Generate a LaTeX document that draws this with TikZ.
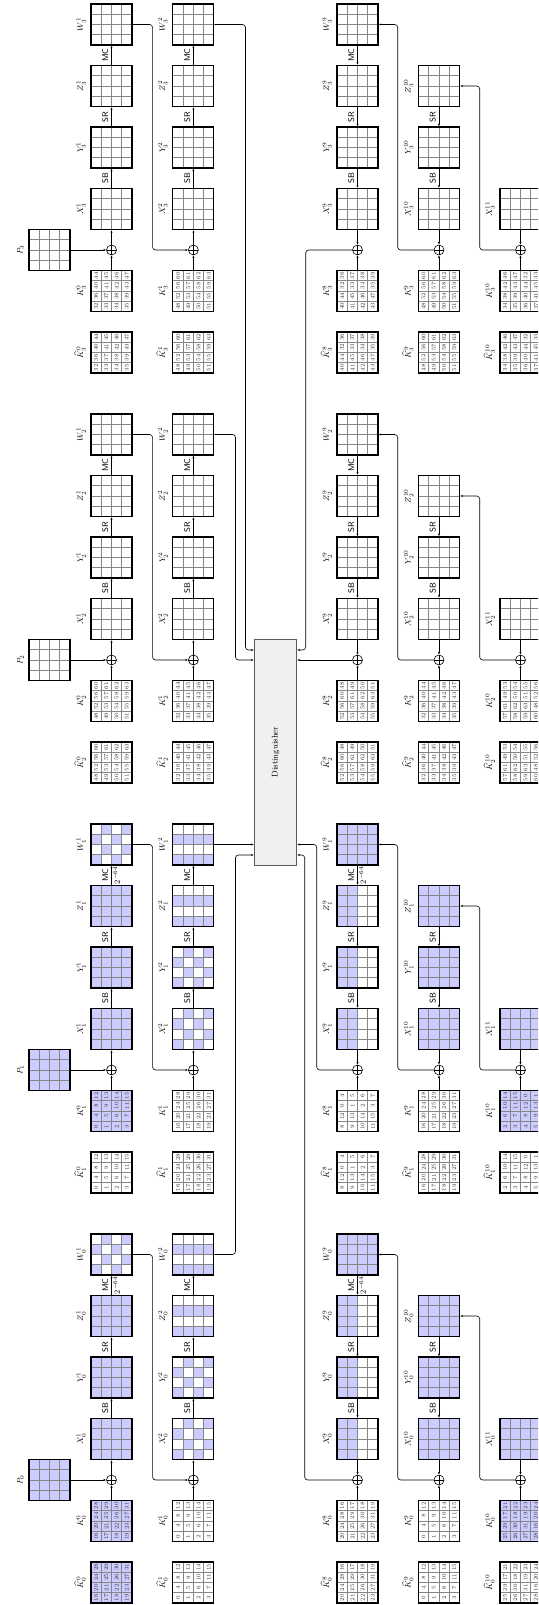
\documentclass[tikz,border=0pt]{standalone}
\usepackage{graphicx}
\usetikzlibrary{arrows.meta,calc}
\definecolor{ActBlue}{HTML}{CCCCFF}
\definecolor{CellGray}{HTML}{858585}
\definecolor{ByteGray}{HTML}{333333}
\definecolor{DistFill}{HTML}{F0F0F0}
\definecolor{DistLine}{HTML}{5A5A5A}
\tikzset{statebox/.style={draw=black,line width=1.15pt,minimum size=41pt,inner sep=0pt},
cellline/.style={draw=CellGray,line width=0.55pt},
xorop/.style={circle,draw,line width=0.6pt,minimum size=10pt,inner sep=0pt,
 path picture={\draw[line width=0.6pt] (path picture bounding box.north)--(path picture bounding box.south)
 (path picture bounding box.west)--(path picture bounding box.east);}},
flow/.style={-{Latex[length=2.6pt,width=2.2pt]},line width=0.6pt,rounded corners=3pt},
lbl/.style={rotate=90,inner sep=0pt,font=\fontsize{8.3}{10}\selectfont},
oplbl/.style={lbl,font=\sffamily\fontsize{8.3}{10}\selectfont},
bytelbl/.style={rotate=90,inner sep=0pt,text=ByteGray,font=\fontsize{5.7}{6}\selectfont},
dist/.style={draw=DistLine,fill=DistFill,line width=0.8pt,minimum width=42.4pt,
 minimum height=225.7pt,inner sep=0pt,font=\fontsize{8.3}{10}\selectfont}}
% rows of the layout
\def\xP{49.5}\def\xA{111.5}\def\xB{193.4}\def\xC{357.5}\def\xD{439}\def\xE{520.5}
% 4x4 state: name, x, y, fill rule in \row and \col
\newcommand\stategrid[4]{%
 \foreach \row in {0,...,3}{\foreach \col in {0,...,3}{%
  \pgfmathtruncatemacro\on{#4}%
  \ifnum\on>0 \fill[ActBlue] ({#2-20.5+10.25*\row},{#3-20.5+10.25*\col}) rectangle +(10.25,10.25);\fi}}%
 \foreach \k in {1,2,3}{%
  \draw[cellline] ({#2-20.5+10.25*\k},{#3-20.5}) -- +(0,41);
  \draw[cellline] ({#2-20.5},{#3-20.5+10.25*\k}) -- +(41,0);}%
 \node[statebox] (#1) at (#2,#3) {};}
% key state: name, x, y, filled, first byte, offset
\newcommand\keygrid[6]{%
 \stategrid{#1}{#2}{#3}{#4}%
 \foreach \row in {0,...,3}{\foreach \col in {0,...,3}{%
  \pgfmathtruncatemacro\byte{#5+mod(\row+4*\col+#6,16)}%
  \node[bytelbl] (#1-\row\col) at ({#2-15.375+10.25*\row},{#3-15.375+10.25*\col}) {\byte};}}}
\newcommand\boxlbl[4]{\node[lbl,anchor=south] (#1) at ({#2-25.5},#3) {$#4$};}
\newcommand\oplbl[4]{\node[oplbl,anchor=south] (#1) at ({#2-3},#3) {#4};}
\newcommand\prlbl[3]{\node[lbl,anchor=north] (#1) at ({#2+1.5},#3) {$2^{-64}$};}
\begin{document}
\begin{tikzpicture}[x=1pt,y=1pt]
\useasboundingbox (0,0) rectangle (538,1605);
\clip (0,0) rectangle (538,1605);
\node[dist] (dist) at (275.5,852.85) {\rotatebox{90}{Distinguisher}};
\foreach \b/\hf/\kf/\act/\bA/\bB/\oE/\oT in
 {0/1/1/1/16/0/4/9,1/0/1/1/0/16/8/2,2/0/0/0/48/32/4/9,3/0/0/0/32/48/8/2}{
\pgfmathsetmacro\uH{22.5+410*\b}\pgfmathsetmacro\uK{\uH+61.5}
\pgfmathsetmacro\uO{\uH+102.5}\pgfmathsetmacro\uX{\uH+143.5}
\pgfmathsetmacro\uY{\uH+205}\pgfmathsetmacro\uZ{\uH+266.5}
\pgfmathsetmacro\uW{\uH+328}
% rounds 1 and 2 (forward)
\stategrid{P-\b}{\xP}{\uO}{\act}
\node[lbl,anchor=south] (lP-\b) at (24,\uO) {$P_{\b}$};
\keygrid{Kh0-\b}{\xA}{\uH}{\hf}{\bA}{0}
\keygrid{K0-\b}{\xA}{\uK}{\kf}{\bA}{0}
\node[xorop] (o1-\b) at (\xA,\uO) {};
\stategrid{X1-\b}{\xA}{\uX}{\act}
\stategrid{Y1-\b}{\xA}{\uY}{\act}
\stategrid{Z1-\b}{\xA}{\uZ}{\act}
\stategrid{W1-\b}{\xA}{\uW}{\act*(1-mod(\row+\col,2))}
\keygrid{Kh1-\b}{\xB}{\uH}{0}{\bB}{0}
\keygrid{K1-\b}{\xB}{\uK}{0}{\bB}{0}
\node[xorop] (o2-\b) at (\xB,\uO) {};
\stategrid{X2-\b}{\xB}{\uX}{\act*(1-mod(\row+\col,2))}
\stategrid{Y2-\b}{\xB}{\uY}{\act*(1-mod(\row+\col,2))}
\stategrid{Z2-\b}{\xB}{\uZ}{\act*(1-mod(\col,2))}
\stategrid{W2-\b}{\xB}{\uW}{\act*(1-mod(\col,2))}
\boxlbl{lKh0-\b}{\xA}{\uH}{\widehat{K}_{\b}^{0}}
\boxlbl{lK0-\b}{\xA}{\uK}{K_{\b}^{0}}
\boxlbl{lX1-\b}{\xA}{\uX}{X_{\b}^{1}}
\boxlbl{lY1-\b}{\xA}{\uY}{Y_{\b}^{1}}
\boxlbl{lZ1-\b}{\xA}{\uZ}{Z_{\b}^{1}}
\boxlbl{lW1-\b}{\xA}{\uW}{W_{\b}^{1}}
\boxlbl{lKh1-\b}{\xB}{\uH}{\widehat{K}_{\b}^{1}}
\boxlbl{lK1-\b}{\xB}{\uK}{K_{\b}^{1}}
\boxlbl{lX2-\b}{\xB}{\uX}{X_{\b}^{2}}
\boxlbl{lY2-\b}{\xB}{\uY}{Y_{\b}^{2}}
\boxlbl{lZ2-\b}{\xB}{\uZ}{Z_{\b}^{2}}
\boxlbl{lW2-\b}{\xB}{\uW}{W_{\b}^{2}}
\draw[flow] (P-\b) -- (o1-\b);
\draw[flow] (K0-\b) -- (o1-\b);
\draw[flow] (o1-\b) -- (X1-\b);
\draw[flow] (X1-\b) -- (Y1-\b);
\draw[flow] (Y1-\b) -- (Z1-\b);
\draw[flow] (Z1-\b) -- (W1-\b);
\draw[flow] (W1-\b.east) -- ++(20,0) |- (o2-\b);
\draw[flow] (K1-\b) -- (o2-\b);
\draw[flow] (o2-\b) -- (X2-\b);
\draw[flow] (X2-\b) -- (Y2-\b);
\draw[flow] (Y2-\b) -- (Z2-\b);
\draw[flow] (Z2-\b) -- (W2-\b);
\oplbl{sb1-\b}{\xA}{\uX+30.75}{SB}
\oplbl{sr1-\b}{\xA}{\uY+30.75}{SR}
\oplbl{mc1-\b}{\xA}{\uZ+30.75}{MC}
\oplbl{sb2-\b}{\xB}{\uX+30.75}{SB}
\oplbl{sr2-\b}{\xB}{\uY+30.75}{SR}
\oplbl{mc2-\b}{\xB}{\uZ+30.75}{MC}
% rounds 9 to 11 (backward)
\keygrid{Kh8-\b}{\xC}{\uH}{0}{\bA}{\oE}
\keygrid{K8-\b}{\xC}{\uK}{0}{\bA}{\oE}
\node[xorop] (o9-\b) at (\xC,\uO) {};
\stategrid{X9-\b}{\xC}{\uX}{\act*(\row<2)}
\stategrid{Y9-\b}{\xC}{\uY}{\act*(\row<2)}
\stategrid{Z9-\b}{\xC}{\uZ}{\act*(\row<2)}
\stategrid{W9-\b}{\xC}{\uW}{\act}
\keygrid{Kh9-\b}{\xD}{\uH}{0}{\bB}{0}
\keygrid{K9-\b}{\xD}{\uK}{0}{\bB}{0}
\node[xorop] (o10-\b) at (\xD,\uO) {};
\stategrid{X10-\b}{\xD}{\uX}{\act}
\stategrid{Y10-\b}{\xD}{\uY}{\act}
\stategrid{Z10-\b}{\xD}{\uZ}{\act}
\keygrid{Kh10-\b}{\xE}{\uH}{0}{\bA}{\oT}
\keygrid{K10-\b}{\xE}{\uK}{\kf}{\bA}{\oT}
\node[xorop] (o11-\b) at (\xE,\uO) {};
\stategrid{X11-\b}{\xE}{\uX}{\act}
\boxlbl{lKh8-\b}{\xC}{\uH}{\widehat{K}_{\b}^{8}}
\boxlbl{lK8-\b}{\xC}{\uK}{K_{\b}^{8}}
\boxlbl{lX9-\b}{\xC}{\uX}{X_{\b}^{9}}
\boxlbl{lY9-\b}{\xC}{\uY}{Y_{\b}^{9}}
\boxlbl{lZ9-\b}{\xC}{\uZ}{Z_{\b}^{9}}
\boxlbl{lW9-\b}{\xC}{\uW}{W_{\b}^{9}}
\boxlbl{lKh9-\b}{\xD}{\uH}{\widehat{K}_{\b}^{9}}
\boxlbl{lK9-\b}{\xD}{\uK}{K_{\b}^{9}}
\boxlbl{lX10-\b}{\xD}{\uX}{X_{\b}^{10}}
\boxlbl{lY10-\b}{\xD}{\uY}{Y_{\b}^{10}}
\boxlbl{lZ10-\b}{\xD}{\uZ}{Z_{\b}^{10}}
\boxlbl{lKh10-\b}{\xE}{\uH}{\widehat{K}_{\b}^{10}}
\boxlbl{lK10-\b}{\xE}{\uK}{K_{\b}^{10}}
\boxlbl{lX11-\b}{\xE}{\uX}{X_{\b}^{11}}
\draw[flow] (K8-\b) -- (o9-\b);
\draw[flow] (X9-\b) -- (o9-\b);
\draw[flow] (Y9-\b) -- (X9-\b);
\draw[flow] (Z9-\b) -- (Y9-\b);
\draw[flow] (W9-\b) -- (Z9-\b);
\draw[flow] (K9-\b) -- (o10-\b);
\draw[flow] (X10-\b) -- (o10-\b);
\draw[flow] (Y10-\b) -- (X10-\b);
\draw[flow] (Z10-\b) -- (Y10-\b);
\draw[flow] (o10-\b.west) -- ++(-36,0) |- (W9-\b.east);
\draw[flow] (K10-\b) -- (o11-\b);
\draw[flow] (X11-\b) -- (o11-\b);
\draw[flow] (o11-\b.west) -- ++(-35.5,0) |- (Z10-\b.east);
\oplbl{sb9-\b}{\xC}{\uX+30.75}{SB}
\oplbl{sr9-\b}{\xC}{\uY+30.75}{SR}
\oplbl{mc9-\b}{\xC}{\uZ+30.75}{MC}
\oplbl{sb10-\b}{\xD}{\uX+30.75}{SB}
\oplbl{sr10-\b}{\xD}{\uY+30.75}{SR}
\ifnum\act=1
 \prlbl{pr1-\b}{\xA}{\uZ+30.75}
 \prlbl{pr9-\b}{\xC}{\uZ+30.75}
\fi
}
% into the distinguisher
\draw[flow] (W2-3.east) -- ++(31,0) |- ($(dist.west |- o2-2)+(0,10)$);
\draw[flow] (W2-2.east) -- ++(21,0) |- (dist.west |- o2-2);
\draw[flow] (W2-1.east) -- (dist.west |- W2-1);
\draw[flow] (W2-0.east) -- ++(21,0) |- ($(dist.west |- W2-1)+(0,-10.5)$);
\draw[flow] (o9-3.west) -- ++(-46.5,0) |- ($(dist.east |- o2-2)+(0,10)$);
\draw[flow] (o9-2) -- (dist.east |- o9-2);
\draw[flow] (o9-1.west) -- ++(-35.5,0) |- (dist.east |- W2-1);
\draw[flow] (o9-0.west) -- ++(-47.5,0) |- ($(dist.east |- W2-1)+(0,-10.5)$);
\end{tikzpicture}
\end{document}
